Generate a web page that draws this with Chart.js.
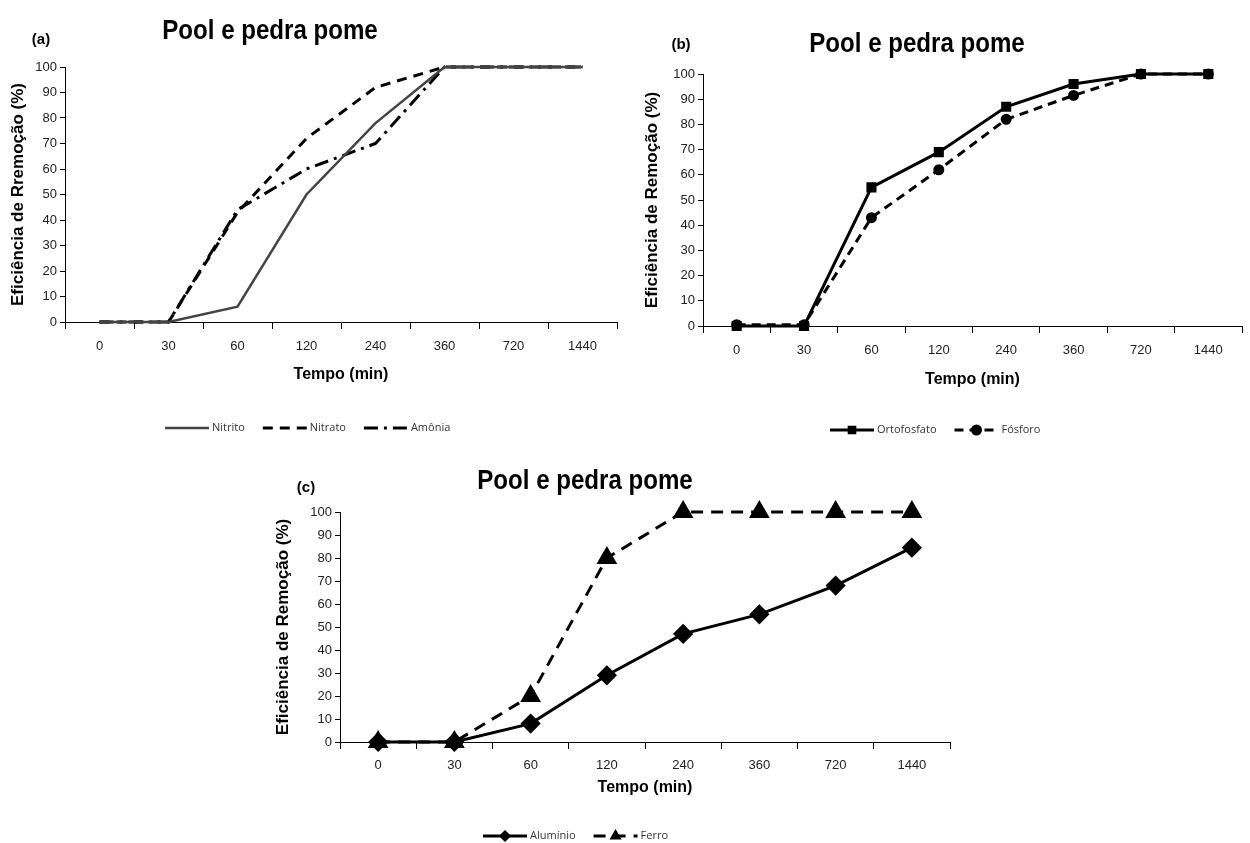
<!DOCTYPE html>
<html>
<head>
<meta charset="utf-8">
<script src="https://cdn.jsdelivr.net/npm/chart.js@4/dist/chart.umd.min.js"></script>
<style>
  body { margin: 0; background: #fff; }
  #wrap { position: relative; width: 1250px; height: 843px; }
  canvas { position: absolute; }
</style>
</head>
<body>
<div id="wrap">
  <canvas id="chartA" width="620" height="450" style="left:0;top:0"></canvas>
  <canvas id="chartB" width="630" height="450" style="left:620px;top:0"></canvas>
  <canvas id="chartC" width="740" height="393" style="left:240px;top:450px"></canvas>
</div>
<script>
// tempo de contato (min)
const timeLabels = ['0', '30', '60', '120', '240', '360', '720', '1440'];

// (a) nitrogenio
const nitrito = [0, 0, 6, 50, 78, 100, 100, 100];
const nitrato = [0, 0, 43, 72, 92, 100, 100, 100];
const amonia = [0, 0, 44, 60, 70, 100, 100, 100];

// (b) fosforo
const ortofosfato = [0, 0, 55, 69, 87, 96, 100, 100];
const fosforo = [0.5, 0.5, 43, 62, 82, 91.5, 100, 100];

// (c) metais
const aluminio = [0, 0, 8, 29, 47, 55.5, 68, 84.5];
const ferro = [0, 0, 20, 80, 100, 100, 100, 100];

const chartTitle = 'Pool e pedra pome';
const xTitle = 'Tempo (min)';

const NARROW = '"Liberation Sans Narrow", "Arial Narrow", "Liberation Sans", sans-serif';

// letra do painel, titulo e legenda desenhados a mao
const panelPlugin = {
  id: 'panel',
  afterDraw(chart, args, opts) {
    const ctx = chart.ctx;
    ctx.save();
    ctx.fillStyle = '#000';
    ctx.textBaseline = 'middle';
    ctx.textAlign = 'center';
    // titulo estreito, como no original
    ctx.save();
    ctx.translate(opts.titleX, opts.titleY);
    ctx.scale(0.86, 1);
    ctx.font = 'bold 28px ' + NARROW;
    ctx.fillText(opts.title, 0, 0);
    ctx.restore();
    ctx.font = 'bold 15px ' + NARROW;
    ctx.fillText(opts.letter, opts.letterX, opts.letterY);

    ctx.font = '11px "Open Sans", sans-serif';
    ctx.textAlign = 'left';
    let x = opts.legendX;
    const y = opts.legendY;
    const w = 44;
    chart.data.datasets.forEach(ds => {
      ctx.save();
      ctx.strokeStyle = ds.borderColor;
      ctx.lineWidth = ds.borderWidth;
      ctx.setLineDash(ds.borderDash || []);
      ctx.beginPath();
      ctx.moveTo(x, y);
      ctx.lineTo(x + w, y);
      ctx.stroke();
      ctx.restore();
      if (ds.pointRadius > 0) {
        ctx.fillStyle = '#000';
        ctx.strokeStyle = '#000';
        Chart.helpers.drawPoint(ctx, { pointStyle: ds.pointStyle, radius: 4, borderWidth: 1, rotation: 0 }, x + w / 2, y);
      }
      ctx.fillStyle = '#333';
      ctx.fillText(ds.label, x + w + 3, y);
      x += w + 3 + ctx.measureText(ds.label).width + 18;
    });
    ctx.restore();
  }
};

function makeScales(yTitle, yWidth, yTitlePad, xHeight, xTickPad) {
  return {
    x: {
      type: 'category',
      offset: true,
      afterFit: s => { s.height = xHeight; },
      grid: { offset: true, drawOnChartArea: false, tickLength: 7, color: '#000' },
      border: { color: '#000', width: 1 },
      ticks: { color: '#222', padding: xTickPad, font: { family: NARROW, size: 13 } },
      title: { display: true, text: xTitle, color: '#000', padding: 0, font: { family: NARROW, size: 16, weight: 'bold' } }
    },
    y: {
      min: 0,
      max: 100,
      afterFit: s => { s.width = yWidth; },
      grid: { drawOnChartArea: false, tickLength: 5, color: '#000' },
      border: { color: '#000', width: 1 },
      ticks: { stepSize: 10, color: '#222', padding: 3, font: { family: NARROW, size: 13 } },
      title: { display: true, text: yTitle, color: '#000', padding: { top: yTitlePad, bottom: 0 }, font: { family: '"Liberation Sans", Arial, sans-serif', size: 17, weight: 'bold' } }
    }
  };
}

function lineSet(label, data, dash, style, radius, color, width) {
  return {
    label: label,
    data: data,
    borderColor: color || '#000',
    backgroundColor: '#000',
    borderWidth: width || 3,
    borderDash: dash,
    pointStyle: style,
    pointRadius: radius,
    pointBackgroundColor: '#000',
    pointBorderColor: '#000',
    tension: 0,
    clip: false
  };
}

Chart.defaults.animation = false;

new Chart(document.getElementById('chartA'), {
  type: 'line',
  data: {
    labels: timeLabels,
    datasets: [
      lineSet('Nitrito', nitrito, [], 'circle', 0, '#444', 2.5),
      lineSet('Nitrato', nitrato, [10, 7], 'circle', 0),
      lineSet('Amônia', amonia, [14, 6, 3, 6], 'circle', 0)
    ]
  },
  options: {
    responsive: false,
    layout: { padding: { top: 67, left: 0, right: 3, bottom: 66 } },
    scales: makeScales('Eficiência de Rremoção (%)', 65, 8, 62, 10),
    plugins: {
      legend: { display: false },
      tooltip: { enabled: false },
      panel: { title: chartTitle, titleX: 270, titleY: 31, letter: '(a)', letterX: 41, letterY: 40, legendX: 165, legendY: 428 }
    }
  },
  plugins: [panelPlugin]
});

new Chart(document.getElementById('chartB'), {
  type: 'line',
  data: {
    labels: timeLabels,
    datasets: [
      lineSet('Ortofosfato', ortofosfato, [], 'rect', 5),
      lineSet('Fósforo', fosforo, [9, 6], 'circle', 4)
    ]
  },
  options: {
    responsive: false,
    layout: { padding: { top: 74, left: 0, right: 2, bottom: 61 } },
    scales: makeScales('Eficiência de Remoção (%)', 83, 22, 63, 10),
    plugins: {
      legend: { display: false },
      tooltip: { enabled: false },
      panel: { title: chartTitle, titleX: 297, titleY: 44, letter: '(b)', letterX: 61, letterY: 45, legendX: 210, legendY: 430 }
    }
  },
  plugins: [panelPlugin]
});

new Chart(document.getElementById('chartC'), {
  type: 'line',
  data: {
    labels: timeLabels,
    datasets: [
      lineSet('Alumínio', aluminio, [], 'rectRot', 8),
      lineSet('Ferro', ferro, [12, 8], 'triangle', 9)
    ]
  },
  options: {
    responsive: false,
    layout: { padding: { top: 62, left: 0, right: 30, bottom: 46 } },
    scales: makeScales('Eficiência de Remoção (%)', 100, 33, 55, 9),
    plugins: {
      legend: { display: false },
      tooltip: { enabled: false },
      panel: { title: chartTitle, titleX: 345, titleY: 31, letter: '(c)', letterX: 66, letterY: 38, legendX: 243, legendY: 386 }
    }
  },
  plugins: [panelPlugin]
});
</script>
</body>
</html>
